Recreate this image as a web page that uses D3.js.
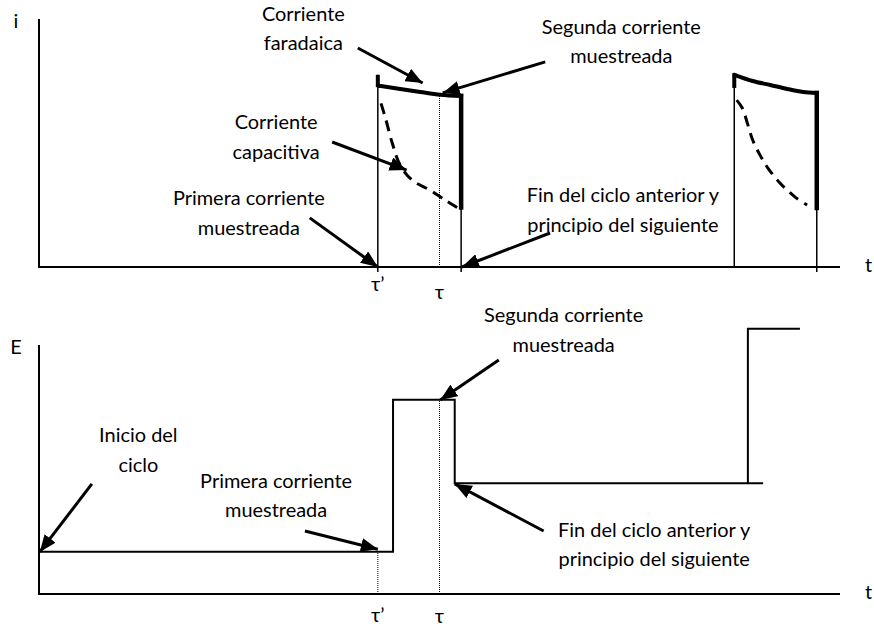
<!DOCTYPE html>
<html>
<head>
<meta charset="utf-8">
<script src="https://cdn.jsdelivr.net/npm/d3@7"></script>
<style>
  body { margin: 0; background: #fff; }
  text { font-family: Lato, "Open Sans", sans-serif; fill: #000; }
</style>
</head>
<body>
<div id="container"></div>
<script>
// time axis runs 0..100, tau' and tau on it
var tauPrime = 42.3;
var tau = 50;
var tickLabels = ['\u03c4\u2019', '\u03c4'];

// current panel (i)
var pulseStarts = [42.3, 86.8];
var pulseEnds = [52.7, 97.1];
var faradaic1 = [[42.3, 7.75], [42.3, 7.25], [42.6, 7.3], [45.1, 7.18], [47.6, 7.06], [50.1, 6.95], [52.7, 6.9]];
var faradaicDrop1 = [[52.7, 6.9], [52.7, 2.4]];
var capacitive1 = [[42.7, 6.6], [43.3, 5.95], [44.1, 5.0], [45.1, 4.1], [46.6, 3.5], [48.8, 3.1], [50.7, 2.7], [52.2, 2.4]];
var faradaic2 = [[86.8, 7.82], [86.8, 7.22], [86.9, 7.74], [89.1, 7.5], [91.3, 7.34], [93.4, 7.18], [95.4, 7.06], [97.1, 7.02]];
var faradaicDrop2 = [[97.1, 7.02], [97.1, 2.38]];
var capacitive2 = [[87.1, 6.73], [87.8, 6.41], [88.5, 5.73], [89.1, 5.12], [90.0, 4.52], [91.0, 3.99], [92.5, 3.39], [94.4, 2.82], [95.9, 2.5]];
var pulseTops = [7.75, 7.82];
var pulseBottoms = [2.4, 2.38];
var faradaicAtTau = 6.95;

// potential panel (E)
var stepWave = [[0, 1.7], [44.2, 1.7], [44.2, 7.8], [51.9, 7.8], [51.9, 4.45], [90.4, 4.45]];
var nextStep = [[88.5, 4.45], [88.5, 10.65], [95, 10.65]];
var eLow = 1.7;
var eHigh = 7.8;

// annotations: text centre/baseline, arrow start, arrow tip (data units)
var topNotes = [
  {lines: ['Corriente', 'faradaica'], t: 33.0, v: 9.92, from: [39.8, 8.83], to: [47.9, 7.42]},
  {lines: ['Corriente', 'capacitiva'], t: 29.6, v: 5.56, from: [36.6, 5.04], to: [45.9, 3.91]},
  {lines: ['Primera corriente', 'muestreada'], t: 26.2, v: 2.5, from: [33.8, 1.98], to: [42.3, 0]},
  {lines: ['Segunda corriente', 'muestreada'], t: 72.7, v: 9.4, from: [63.2, 8.27], to: [50.4, 7.02]},
  {lines: ['Fin del ciclo anterior y', 'principio del siguiente'], t: 72.9, v: 2.62, from: [63.8, 1.37], to: [52.8, 0]}
];
var bottomNotes = [
  {lines: ['Inicio del', 'ciclo'], t: 12.4, v: 6.1, from: [6.6, 4.42], to: [0.1, 1.69]},
  {lines: ['Primera corriente', 'muestreada'], t: 29.6, v: 4.26, from: [33.2, 2.53], to: [42.3, 1.8]},
  {lines: ['Segunda corriente', 'muestreada'], t: 65.5, v: 10.92, from: [57.4, 9.4], to: [50.1, 7.79]},
  {lines: ['Fin del ciclo anterior y', 'principio del siguiente'], t: 76.8, v: 2.29, from: [63.0, 2.53], to: [51.9, 4.42]}
];

var svg = d3.select('#container').append('svg')
    .attr('width', 874)
    .attr('height', 628);

svg.append('defs').append('marker')
    .attr('id', 'head')
    .attr('markerUnits', 'userSpaceOnUse')
    .attr('markerWidth', 17)
    .attr('markerHeight', 14)
    .attr('refX', 17)
    .attr('refY', 7)
    .attr('orient', 'auto')
  .append('path')
    .attr('d', 'M0,0 L17,7 L0,14 Z')
    .attr('fill', '#000');

// pick the font size so text widths match the original
var probe = svg.append('text').style('font-size', '20px').text('Primera corriente');
var fontSize = 20 * 152 / probe.node().getComputedTextLength();
probe.remove();

var x = d3.scaleLinear().domain([0, 100]).range([39, 840]);
var yI = d3.scaleLinear().domain([0, 10]).range([267, 19]);
var yE = d3.scaleLinear().domain([0, 10]).range([594, 345]);

function drawAxes(y, name, tickDy) {
    svg.append('line')
        .attr('x1', x(0)).attr('x2', x(0))
        .attr('y1', y(0)).attr('y2', y(10))
        .attr('stroke', '#000').attr('stroke-width', 2);
    svg.append('line')
        .attr('x1', x(0) - 1).attr('x2', x(100))
        .attr('y1', y(0)).attr('y2', y(0))
        .attr('stroke', '#000').attr('stroke-width', 2);
    svg.append('text')
        .attr('x', x(0) - 23).attr('y', y(10) + 9)
        .attr('text-anchor', 'middle')
        .style('font-size', fontSize + 'px')
        .text(name);
    svg.append('text')
        .attr('x', x(100) + 25).attr('y', y(0) + 5)
        .style('font-size', fontSize + 'px')
        .text('t');
    svg.selectAll(null)
        .data([tauPrime, tau])
      .enter().append('text')
        .attr('x', function(d) { return x(d); })
        .attr('y', function(d, i) { return y(0) + tickDy[i]; })
        .attr('text-anchor', 'middle')
        .style('font-size', fontSize + 'px')
        .text(function(d, i) { return tickLabels[i]; });
}

function drawNotes(notes, y) {
    var g = svg.selectAll(null).data(notes).enter().append('g');
    g.append('line')
        .attr('x1', function(d) { return x(d.from[0]); })
        .attr('y1', function(d) { return y(d.from[1]); })
        .attr('x2', function(d) { return x(d.to[0]); })
        .attr('y2', function(d) { return y(d.to[1]); })
        .attr('stroke', '#000')
        .attr('stroke-width', 3)
        .attr('marker-end', 'url(#head)');
    g.append('text')
        .attr('text-anchor', 'middle')
        .style('font-size', fontSize + 'px')
        .selectAll('tspan')
        .data(function(d) { return d.lines.map(function(l) { return {line: l, t: d.t, v: d.v}; }); })
      .enter().append('tspan')
        .attr('x', function(d) { return x(d.t); })
        .attr('y', function(d, i) { return y(d.v) + i * 29.5; })
        .text(function(d) { return d.line; });
}

var line = function(y) {
    return d3.line().x(function(d) { return x(d[0]); }).y(function(d) { return y(d[1]); });
};

// ---- top panel: current ----
drawAxes(yI, 'i', [24, 32]);

svg.append('line')
    .attr('x1', x(tau)).attr('x2', x(tau))
    .attr('y1', yI(0)).attr('y2', yI(faradaicAtTau))
    .attr('stroke', '#000').attr('stroke-width', 1)
    .attr('stroke-dasharray', '1,1');

// thin pulse edges
pulseStarts.forEach(function(t, i) {
    svg.append('line')
        .attr('x1', x(t)).attr('x2', x(t))
        .attr('y1', yI(0) + (i == 0 ? 5 : 0)).attr('y2', yI(pulseTops[i]))
        .attr('stroke', '#000').attr('stroke-width', 1.5);
});
pulseEnds.forEach(function(t, i) {
    svg.append('line')
        .attr('x1', x(t)).attr('x2', x(t))
        .attr('y1', yI(0) + 5).attr('y2', yI(pulseBottoms[i]))
        .attr('stroke', '#000').attr('stroke-width', 1.5);
});

[faradaic1, faradaic2].forEach(function(pts) {
    svg.append('path')
        .attr('d', line(yI).curve(d3.curveLinear)(pts.slice(0, 2)))
        .attr('stroke', '#000').attr('stroke-width', 4).attr('fill', 'none');
    svg.append('path')
        .attr('d', line(yI).curve(d3.curveMonotoneX)(pts.slice(2)))
        .attr('stroke', '#000').attr('stroke-width', 4).attr('fill', 'none')
        .attr('stroke-linecap', 'square');
});
[faradaicDrop1, faradaicDrop2].forEach(function(pts) {
    svg.append('path')
        .attr('d', line(yI)(pts))
        .attr('stroke', '#000').attr('stroke-width', 4.5).attr('fill', 'none')
        .attr('stroke-linecap', 'square');
});
[capacitive1, capacitive2].forEach(function(pts) {
    svg.append('path')
        .attr('d', line(yI).curve(d3.curveCatmullRom)(pts))
        .attr('stroke', '#000').attr('stroke-width', 3).attr('fill', 'none')
        .attr('stroke-dasharray', '11,7');
});

drawNotes(topNotes, yI);

// ---- bottom panel: potential ----
drawAxes(yE, 'E', [28, 29]);

svg.append('line')
    .attr('x1', x(tauPrime)).attr('x2', x(tauPrime))
    .attr('y1', yE(0)).attr('y2', yE(eLow))
    .attr('stroke', '#000').attr('stroke-width', 1)
    .attr('stroke-dasharray', '1,1');
svg.append('line')
    .attr('x1', x(tau)).attr('x2', x(tau))
    .attr('y1', yE(0)).attr('y2', yE(eHigh))
    .attr('stroke', '#000').attr('stroke-width', 1)
    .attr('stroke-dasharray', '1,1');

[stepWave, nextStep].forEach(function(pts) {
    svg.append('path')
        .attr('d', line(yE)(pts))
        .attr('stroke', '#000').attr('stroke-width', 2).attr('fill', 'none');
});

drawNotes(bottomNotes, yE);
</script>
</body>
</html>
